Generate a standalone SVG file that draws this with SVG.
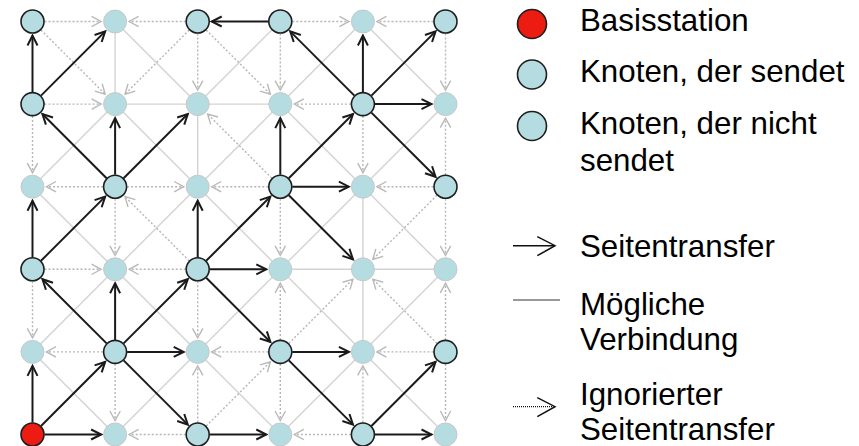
<svg xmlns="http://www.w3.org/2000/svg" width="859" height="446" viewBox="0 0 859 446">
  <defs>
    <marker id="headSend" markerUnits="userSpaceOnUse" markerWidth="14" markerHeight="14" viewBox="0 0 14 14" refX="12" refY="7" orient="auto">
      <path d="M2,2 L12,7 L2,12" fill="none" stroke="#1a1a1a" stroke-width="2" stroke-linejoin="miter"/>
    </marker>
    <marker id="headIgnored" markerUnits="userSpaceOnUse" markerWidth="14" markerHeight="14" viewBox="0 0 14 14" refX="12" refY="7" orient="auto">
      <path d="M2.5,1.8 L12,7 L2.5,12.2" fill="none" stroke="#b9b9b9" stroke-width="1.4"/>
    </marker>
  </defs>
  <style>
    .possible { stroke: #d3d3d3; stroke-width: 1.4; fill: none; }
    .ignored { stroke: #b6b6b6; stroke-width: 1.4; stroke-dasharray: 2 2; fill: none; marker-end: url(#headIgnored); }
    .transfer { stroke: #1a1a1a; stroke-width: 2; fill: none; marker-end: url(#headSend); }
    .node { fill: #b5dde1; }
    .idle { stroke: #c8c8c8; stroke-width: 1; }
    .sending { stroke: #1e1e1e; stroke-width: 1.6; }
    .base { fill: #ed1c12; stroke: #1e1e1e; stroke-width: 1.6; }
    .label { font-family: "Liberation Sans", Arial, sans-serif; font-size: 31.3px; fill: #000; }
  </style>

  <g id="connectors">
    <!-- possible links between nodes that do not send -->
    <g id="possible-links">
      <line class="possible" x1="115.1" y1="21.5" x2="115.1" y2="104.1"/>
      <line class="possible" x1="115.1" y1="21.5" x2="197.7" y2="104.1"/>
      <line class="possible" x1="362.9" y1="21.5" x2="280.3" y2="104.1"/>
      <line class="possible" x1="362.9" y1="21.5" x2="445.5" y2="104.1"/>
      <line class="possible" x1="115.1" y1="104.1" x2="197.7" y2="104.1"/>
      <line class="possible" x1="115.1" y1="104.1" x2="32.5" y2="186.7"/>
      <line class="possible" x1="115.1" y1="104.1" x2="197.7" y2="186.7"/>
      <line class="possible" x1="197.7" y1="104.1" x2="280.3" y2="104.1"/>
      <line class="possible" x1="197.7" y1="104.1" x2="197.7" y2="186.7"/>
      <line class="possible" x1="280.3" y1="104.1" x2="197.7" y2="186.7"/>
      <line class="possible" x1="280.3" y1="104.1" x2="362.9" y2="186.7"/>
      <line class="possible" x1="445.5" y1="104.1" x2="362.9" y2="186.7"/>
      <line class="possible" x1="32.5" y1="186.7" x2="115.1" y2="269.3"/>
      <line class="possible" x1="197.7" y1="186.7" x2="115.1" y2="269.3"/>
      <line class="possible" x1="197.7" y1="186.7" x2="280.3" y2="269.3"/>
      <line class="possible" x1="362.9" y1="186.7" x2="280.3" y2="269.3"/>
      <line class="possible" x1="362.9" y1="186.7" x2="362.9" y2="269.3"/>
      <line class="possible" x1="362.9" y1="186.7" x2="445.5" y2="269.3"/>
      <line class="possible" x1="115.1" y1="269.3" x2="32.5" y2="351.9"/>
      <line class="possible" x1="115.1" y1="269.3" x2="197.7" y2="351.9"/>
      <line class="possible" x1="280.3" y1="269.3" x2="362.9" y2="269.3"/>
      <line class="possible" x1="280.3" y1="269.3" x2="197.7" y2="351.9"/>
      <line class="possible" x1="280.3" y1="269.3" x2="362.9" y2="351.9"/>
      <line class="possible" x1="362.9" y1="269.3" x2="445.5" y2="269.3"/>
      <line class="possible" x1="362.9" y1="269.3" x2="362.9" y2="351.9"/>
      <line class="possible" x1="445.5" y1="269.3" x2="362.9" y2="351.9"/>
      <line class="possible" x1="32.5" y1="351.9" x2="115.1" y2="434.5"/>
      <line class="possible" x1="197.7" y1="351.9" x2="115.1" y2="434.5"/>
      <line class="possible" x1="197.7" y1="351.9" x2="280.3" y2="434.5"/>
      <line class="possible" x1="362.9" y1="351.9" x2="280.3" y2="434.5"/>
      <line class="possible" x1="362.9" y1="351.9" x2="445.5" y2="434.5"/>
      <line class="possible" x1="280.3" y1="21.5" x2="197.7" y2="104.1"/>
    </g>

    <!-- ignored page transfers -->
    <g id="ignored-transfers">
      <line class="ignored" x1="44.5" y1="21.5" x2="101.1" y2="21.5"/>
      <line class="ignored" x1="185.7" y1="21.5" x2="129.1" y2="21.5"/>
      <line class="ignored" x1="41" y1="30" x2="105.2" y2="94.2"/>
      <line class="ignored" x1="189.2" y1="30" x2="125" y2="94.2"/>
      <line class="ignored" x1="197.7" y1="33.5" x2="197.7" y2="90.1"/>
      <line class="ignored" x1="206.2" y1="30" x2="270.4" y2="94.2"/>
      <line class="ignored" x1="280.3" y1="33.5" x2="280.3" y2="90.1"/>
      <line class="ignored" x1="292.3" y1="21.5" x2="348.9" y2="21.5"/>
      <line class="ignored" x1="433.5" y1="21.5" x2="376.9" y2="21.5"/>
      <line class="ignored" x1="445.5" y1="33.5" x2="445.5" y2="90.1"/>
      <line class="ignored" x1="44.5" y1="104.1" x2="101.1" y2="104.1"/>
      <line class="ignored" x1="32.5" y1="116.1" x2="32.5" y2="172.7"/>
      <line class="ignored" x1="271.8" y1="178.2" x2="207.6" y2="114"/>
      <line class="ignored" x1="350.9" y1="104.1" x2="294.3" y2="104.1"/>
      <line class="ignored" x1="362.9" y1="116.1" x2="362.9" y2="172.7"/>
      <line class="ignored" x1="445.5" y1="174.7" x2="445.5" y2="118.1"/>
      <line class="ignored" x1="103.1" y1="186.7" x2="46.5" y2="186.7"/>
      <line class="ignored" x1="127.1" y1="186.7" x2="183.7" y2="186.7"/>
      <line class="ignored" x1="268.3" y1="186.7" x2="211.7" y2="186.7"/>
      <line class="ignored" x1="115.1" y1="198.7" x2="115.1" y2="255.3"/>
      <line class="ignored" x1="189.2" y1="260.8" x2="125" y2="196.6"/>
      <line class="ignored" x1="280.3" y1="198.7" x2="280.3" y2="255.3"/>
      <line class="ignored" x1="433.5" y1="186.7" x2="376.9" y2="186.7"/>
      <line class="ignored" x1="437" y1="195.2" x2="372.8" y2="259.4"/>
      <line class="ignored" x1="445.5" y1="198.7" x2="445.5" y2="255.3"/>
      <line class="ignored" x1="44.5" y1="269.3" x2="101.1" y2="269.3"/>
      <line class="ignored" x1="185.7" y1="269.3" x2="129.1" y2="269.3"/>
      <line class="ignored" x1="32.5" y1="281.3" x2="32.5" y2="337.9"/>
      <line class="ignored" x1="197.7" y1="281.3" x2="197.7" y2="337.9"/>
      <line class="ignored" x1="280.3" y1="339.9" x2="280.3" y2="283.3"/>
      <line class="ignored" x1="288.8" y1="343.4" x2="353" y2="279.2"/>
      <line class="ignored" x1="437" y1="343.4" x2="372.8" y2="279.2"/>
      <line class="ignored" x1="445.5" y1="339.9" x2="445.5" y2="283.3"/>
      <line class="ignored" x1="103.1" y1="351.9" x2="46.5" y2="351.9"/>
      <line class="ignored" x1="115.1" y1="363.9" x2="115.1" y2="420.5"/>
      <line class="ignored" x1="268.3" y1="351.9" x2="211.7" y2="351.9"/>
      <line class="ignored" x1="185.7" y1="434.5" x2="129.1" y2="434.5"/>
      <line class="ignored" x1="197.7" y1="422.5" x2="197.7" y2="365.9"/>
      <line class="ignored" x1="206.2" y1="426" x2="270.4" y2="361.8"/>
      <line class="ignored" x1="280.3" y1="363.9" x2="280.3" y2="420.5"/>
      <line class="ignored" x1="350.9" y1="434.5" x2="294.3" y2="434.5"/>
      <line class="ignored" x1="362.9" y1="422.5" x2="362.9" y2="365.9"/>
      <line class="ignored" x1="433.5" y1="351.9" x2="376.9" y2="351.9"/>
      <line class="ignored" x1="445.5" y1="363.9" x2="445.5" y2="420.5"/>
    </g>

    <!-- page transfers -->
    <g id="page-transfers">
      <line class="transfer" x1="32.5" y1="422.5" x2="32.5" y2="365.9"/>
      <line class="transfer" x1="41" y1="426" x2="105.2" y2="361.8"/>
      <line class="transfer" x1="44.5" y1="434.5" x2="101.1" y2="434.5"/>
      <line class="transfer" x1="106.6" y1="343.4" x2="42.4" y2="279.2"/>
      <line class="transfer" x1="115.1" y1="339.9" x2="115.1" y2="283.3"/>
      <line class="transfer" x1="123.6" y1="343.4" x2="187.8" y2="279.2"/>
      <line class="transfer" x1="127.1" y1="351.9" x2="183.7" y2="351.9"/>
      <line class="transfer" x1="123.6" y1="360.4" x2="187.8" y2="424.6"/>
      <line class="transfer" x1="32.5" y1="257.3" x2="32.5" y2="200.7"/>
      <line class="transfer" x1="41" y1="260.8" x2="105.2" y2="196.6"/>
      <line class="transfer" x1="197.7" y1="257.3" x2="197.7" y2="200.7"/>
      <line class="transfer" x1="206.2" y1="260.8" x2="270.4" y2="196.6"/>
      <line class="transfer" x1="209.7" y1="269.3" x2="266.3" y2="269.3"/>
      <line class="transfer" x1="206.2" y1="277.8" x2="270.4" y2="342"/>
      <line class="transfer" x1="106.6" y1="178.2" x2="42.4" y2="114"/>
      <line class="transfer" x1="115.1" y1="174.7" x2="115.1" y2="118.1"/>
      <line class="transfer" x1="123.6" y1="178.2" x2="187.8" y2="114"/>
      <line class="transfer" x1="32.5" y1="92.1" x2="32.5" y2="35.5"/>
      <line class="transfer" x1="41" y1="95.6" x2="105.2" y2="31.4"/>
      <line class="transfer" x1="280.3" y1="174.7" x2="280.3" y2="118.1"/>
      <line class="transfer" x1="288.8" y1="178.2" x2="353" y2="114"/>
      <line class="transfer" x1="292.3" y1="186.7" x2="348.9" y2="186.7"/>
      <line class="transfer" x1="288.8" y1="195.2" x2="353" y2="259.4"/>
      <line class="transfer" x1="354.4" y1="95.6" x2="290.2" y2="31.4"/>
      <line class="transfer" x1="362.9" y1="92.1" x2="362.9" y2="35.5"/>
      <line class="transfer" x1="371.4" y1="95.6" x2="435.6" y2="31.4"/>
      <line class="transfer" x1="374.9" y1="104.1" x2="431.5" y2="104.1"/>
      <line class="transfer" x1="371.4" y1="112.6" x2="435.6" y2="176.8"/>
      <line class="transfer" x1="268.3" y1="21.5" x2="211.7" y2="21.5"/>
      <line class="transfer" x1="209.7" y1="434.5" x2="266.3" y2="434.5"/>
      <line class="transfer" x1="292.3" y1="351.9" x2="348.9" y2="351.9"/>
      <line class="transfer" x1="288.8" y1="360.4" x2="353" y2="424.6"/>
      <line class="transfer" x1="371.4" y1="426" x2="435.6" y2="361.8"/>
      <line class="transfer" x1="374.9" y1="434.5" x2="431.5" y2="434.5"/>
    </g>
  </g>

  <!-- grid nodes: n-column-row -->
  <g id="n-0-0"><circle class="node sending" cx="32.5" cy="21.5" r="11.5"/></g>
  <g id="n-1-0"><circle class="node idle" cx="115.1" cy="21.5" r="11.5"/></g>
  <g id="n-2-0"><circle class="node sending" cx="197.7" cy="21.5" r="11.5"/></g>
  <g id="n-3-0"><circle class="node sending" cx="280.3" cy="21.5" r="11.5"/></g>
  <g id="n-4-0"><circle class="node idle" cx="362.9" cy="21.5" r="11.5"/></g>
  <g id="n-5-0"><circle class="node sending" cx="445.5" cy="21.5" r="11.5"/></g>

  <g id="n-0-1"><circle class="node sending" cx="32.5" cy="104.1" r="11.5"/></g>
  <g id="n-1-1"><circle class="node idle" cx="115.1" cy="104.1" r="11.5"/></g>
  <g id="n-2-1"><circle class="node idle" cx="197.7" cy="104.1" r="11.5"/></g>
  <g id="n-3-1"><circle class="node idle" cx="280.3" cy="104.1" r="11.5"/></g>
  <g id="n-4-1"><circle class="node sending" cx="362.9" cy="104.1" r="11.5"/></g>
  <g id="n-5-1"><circle class="node idle" cx="445.5" cy="104.1" r="11.5"/></g>

  <g id="n-0-2"><circle class="node idle" cx="32.5" cy="186.7" r="11.5"/></g>
  <g id="n-1-2"><circle class="node sending" cx="115.1" cy="186.7" r="11.5"/></g>
  <g id="n-2-2"><circle class="node idle" cx="197.7" cy="186.7" r="11.5"/></g>
  <g id="n-3-2"><circle class="node sending" cx="280.3" cy="186.7" r="11.5"/></g>
  <g id="n-4-2"><circle class="node idle" cx="362.9" cy="186.7" r="11.5"/></g>
  <g id="n-5-2"><circle class="node sending" cx="445.5" cy="186.7" r="11.5"/></g>

  <g id="n-0-3"><circle class="node sending" cx="32.5" cy="269.3" r="11.5"/></g>
  <g id="n-1-3"><circle class="node idle" cx="115.1" cy="269.3" r="11.5"/></g>
  <g id="n-2-3"><circle class="node sending" cx="197.7" cy="269.3" r="11.5"/></g>
  <g id="n-3-3"><circle class="node idle" cx="280.3" cy="269.3" r="11.5"/></g>
  <g id="n-4-3"><circle class="node idle" cx="362.9" cy="269.3" r="11.5"/></g>
  <g id="n-5-3"><circle class="node idle" cx="445.5" cy="269.3" r="11.5"/></g>

  <g id="n-0-4"><circle class="node idle" cx="32.5" cy="351.9" r="11.5"/></g>
  <g id="n-1-4"><circle class="node sending" cx="115.1" cy="351.9" r="11.5"/></g>
  <g id="n-2-4"><circle class="node idle" cx="197.7" cy="351.9" r="11.5"/></g>
  <g id="n-3-4"><circle class="node sending" cx="280.3" cy="351.9" r="11.5"/></g>
  <g id="n-4-4"><circle class="node idle" cx="362.9" cy="351.9" r="11.5"/></g>
  <g id="n-5-4"><circle class="node sending" cx="445.5" cy="351.9" r="11.5"/></g>

  <g id="n-0-5"><circle class="base" cx="32.5" cy="434.5" r="11.5"/></g>
  <g id="n-1-5"><circle class="node idle" cx="115.1" cy="434.5" r="11.5"/></g>
  <g id="n-2-5"><circle class="node sending" cx="197.7" cy="434.5" r="11.5"/></g>
  <g id="n-3-5"><circle class="node idle" cx="280.3" cy="434.5" r="11.5"/></g>
  <g id="n-4-5"><circle class="node sending" cx="362.9" cy="434.5" r="11.5"/></g>
  <g id="n-5-5"><circle class="node idle" cx="445.5" cy="434.5" r="11.5"/></g>

  <!-- legend -->
  <g id="legend">
    <circle cx="532" cy="24" r="14.5" fill="#ed1c12" stroke="#1e1e1e" stroke-width="1.6"/>
    <text class="label" x="580" y="30.5">Basisstation</text>
    <circle cx="532" cy="74.5" r="14.5" fill="#b5dde1" stroke="#1e1e1e" stroke-width="1.6"/>
    <text class="label" x="580" y="82">Knoten, der sendet</text>
    <circle cx="532" cy="126" r="14.5" fill="#b5dde1" stroke="#1e1e1e" stroke-width="1.6"/>
    <text class="label" x="580" y="133.5">Knoten, der nicht</text>
    <text class="label" x="580" y="170.5">sendet</text>

    <line x1="513" y1="245.7" x2="554" y2="245.7" stroke="#111" stroke-width="1.5"/>
    <path d="M537.3,236.7 L555,245.7 L537.3,255.7" fill="none" stroke="#111" stroke-width="1.5"/>
    <text class="label" x="580" y="257">Seitentransfer</text>

    <line x1="513" y1="300" x2="560" y2="300" stroke="#999" stroke-width="2"/>
    <text class="label" x="580" y="315">Mögliche</text>
    <text class="label" x="580" y="350">Verbindung</text>

    <line x1="513" y1="406.7" x2="553" y2="406.7" stroke="#111" stroke-width="1.3" stroke-dasharray="1 1"/>
    <path d="M537.3,397.7 L555,406.7 L537.3,416.7" fill="none" stroke="#111" stroke-width="1.5"/>
    <text class="label" x="580" y="405">Ignorierter</text>
    <text class="label" x="580" y="440">Seitentransfer</text>
  </g>
</svg>
